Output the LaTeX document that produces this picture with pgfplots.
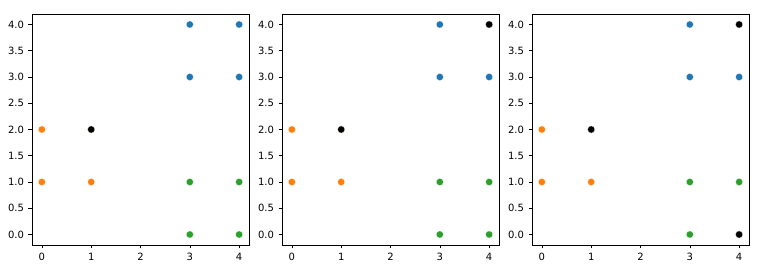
\documentclass[border=0pt]{standalone}
\usepackage{pgfplots}
\pgfplotsset{compat=1.18}
\usepackage{fontspec}
\setmainfont{DejaVu Sans}
\definecolor{tblue}{HTML}{1F77B4}
\definecolor{torange}{HTML}{FF7F0E}
\definecolor{tgreen}{HTML}{2CA02C}
\pgfplotsset{
  panel/.style={
    scale only axis, width=217pt, height=231pt,
    anchor=south west,
    xmin=-0.2, xmax=4.2, ymin=-0.2, ymax=4.2,
    xtick={0,1,2,3,4},
    ytick={0,0.5,1,1.5,2,2.5,3,3.5,4},
    yticklabel style={/pgf/number format/fixed, /pgf/number format/fixed zerofill, /pgf/number format/precision=1, xshift=-1pt},
    xtick pos=bottom, ytick pos=left,
    tick align=outside, major tick length=3.5pt,
    tick style={black, line width=0.6pt},
    axis line style={line width=0.6pt},
    ticklabel style={font=\fontsize{10}{12}\selectfont},
    /pgf/number format/assume math mode=true,
    xticklabel style={yshift=-1pt},
    clip=false,
  },
  pts/.style={only marks, mark=*, mark size=3.6pt, mark options={draw=white, line width=0.2pt, fill=#1}},
}
\begin{document}
\begin{tikzpicture}
\path[use as bounding box] (0pt,0pt) rectangle (762pt,280pt);
% panel 1
\begin{axis}[panel, at={(32pt,35pt)}]
\addplot[pts=tblue] coordinates {(3,3) (3,4) (4,3) (4,4)};
\addplot[pts=torange] coordinates {(0,1) (0,2) (1,1) (1,2)};
\addplot[pts=tgreen] coordinates {(3,0) (3,1) (4,0) (4,1)};
\addplot[pts=black] coordinates {(1,2)};
\end{axis}
% panel 2
\begin{axis}[panel, at={(282pt,35pt)}]
\addplot[pts=tblue] coordinates {(3,3) (3,4) (4,3) (4,4)};
\addplot[pts=torange] coordinates {(0,1) (0,2) (1,1) (1,2)};
\addplot[pts=tgreen] coordinates {(3,0) (3,1) (4,0) (4,1)};
\addplot[pts=black] coordinates {(1,2) (4,4)};
\end{axis}
% panel 3
\begin{axis}[panel, at={(532pt,35pt)}]
\addplot[pts=tblue] coordinates {(3,3) (3,4) (4,3) (4,4)};
\addplot[pts=torange] coordinates {(0,1) (0,2) (1,1) (1,2)};
\addplot[pts=tgreen] coordinates {(3,0) (3,1) (4,0) (4,1)};
\addplot[pts=black] coordinates {(1,2) (4,4) (4,0)};
\end{axis}
\end{tikzpicture}
\end{document}
